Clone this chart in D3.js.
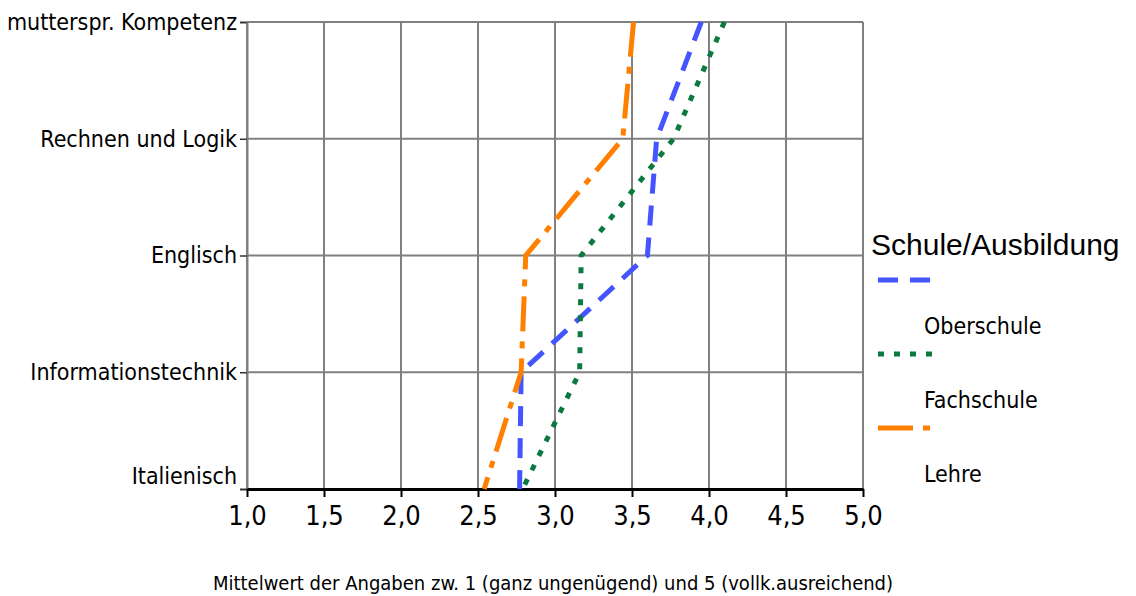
<!DOCTYPE html>
<html>
<head>
<meta charset="utf-8">
<script src="https://cdn.jsdelivr.net/npm/d3@7"></script>
<style>
  body { margin: 0; background: #fff; }
  svg { display: block; }
  .narrow { font-family: "Liberation Sans Narrow", "DejaVu Sans Condensed", "Roboto Condensed", sans-serif; font-stretch: condensed; }
</style>
</head>
<body>
<svg id="chart" width="1136" height="596"></svg>
<script>
// Skill areas (top to bottom) and mean ratings per school type
const categories = ["mutterspr. Kompetenz", "Rechnen und Logik", "Englisch", "Informationstechnik", "Italienisch"];
const oberschule = [3.95, 3.66, 3.60, 2.78, 2.77];
const fachschule = [4.10, 3.77, 3.17, 3.16, 2.79];
const lehre      = [3.51, 3.44, 2.81, 2.78, 2.54];
const xTicks = [1.0, 1.5, 2.0, 2.5, 3.0, 3.5, 4.0, 4.5, 5.0];
const seriesNames = ["Oberschule", "Fachschule", "Lehre"];
const legendTitle = "Schule/Ausbildung";
const xTitle = "Mittelwert der Angaben zw. 1 (ganz ungenügend) und 5 (vollk.ausreichend)";

const series = [
  { name: seriesNames[0], values: oberschule, color: "#4455ff", dash: "20,12" },
  { name: seriesNames[1], values: fachschule, color: "#0a7a40", dash: "6,10" },
  { name: seriesNames[2], values: lehre,      color: "#ff8000", dash: "35,10,7,10" }
];

const svg = d3.select("#chart");
const x = d3.scaleLinear().domain([1, 5]).range([247, 863]);
const y = d3.scalePoint().domain(categories).range([22, 489]);

const fmt = v => d3.format(".1f")(v).replace(".", ",");

// Grid
const grid = svg.append("g").attr("stroke", "#808080").attr("stroke-width", 2);
grid.selectAll("line.v").data(xTicks).join("line")
  .attr("x1", d => x(d)).attr("x2", d => x(d))
  .attr("y1", y(categories[0])).attr("y2", y(categories[categories.length - 1]));
grid.selectAll("line.h").data(categories).join("line")
  .attr("x1", x(1)).attr("x2", x(5))
  .attr("y1", d => y(d)).attr("y2", d => y(d));

// Y axis
const yAxis = svg.append("g")
  .attr("transform", `translate(${x(1)},0)`)
  .call(d3.axisLeft(y).tickSize(7).tickPadding(3));
yAxis.select(".domain").attr("stroke", "#808080").attr("stroke-width", 2);
yAxis.selectAll(".tick line").attr("stroke", "#333").attr("stroke-width", 1.5);
yAxis.selectAll(".tick text")
  .attr("class", "narrow")
  .attr("font-size", 23)
  .attr("fill", "#000")
  .attr("dy", d => d === categories[categories.length - 1] ? "-0.22em" : "0.32em");

// X axis
const xAxis = svg.append("g")
  .attr("transform", `translate(0,${y(categories[categories.length - 1])})`)
  .call(d3.axisBottom(x).tickValues(xTicks).tickFormat(fmt).tickSize(8).tickSizeOuter(0).tickPadding(9));
xAxis.select(".domain").attr("stroke", "#000").attr("stroke-width", 3);
xAxis.selectAll(".tick line").attr("stroke", "#000").attr("stroke-width", 2);
xAxis.selectAll(".tick text")
  .attr("class", "narrow")
  .attr("font-size", 27)
  .attr("fill", "#000");

// Series lines
const line = d3.line()
  .x(d => x(d.v))
  .y(d => y(d.c));

svg.append("g").selectAll("path.series").data(series).join("path")
  .attr("fill", "none")
  .attr("stroke", d => d.color)
  .attr("stroke-width", 5)
  .attr("stroke-dasharray", d => d.dash)
  .attr("d", d => line(categories.map((c, i) => ({ c, v: d.values[i] }))));

// X title
svg.append("text")
  .attr("class", "narrow")
  .attr("x", 553).attr("y", 590)
  .attr("text-anchor", "middle")
  .attr("font-size", 20)
  .text(xTitle);

// Legend
const legend = svg.append("g");
legend.append("text")
  .attr("x", 871).attr("y", 255)
  .attr("font-family", "Liberation Sans, Arial, sans-serif")
  .attr("font-size", 30)
  .text(legendTitle);
const items = legend.selectAll("g.item").data(series).join("g")
  .attr("transform", (d, i) => `translate(0,${280 + i * 74})`);
items.append("line")
  .attr("x1", 878).attr("x2", 932)
  .attr("stroke", d => d.color)
  .attr("stroke-width", 5)
  .attr("stroke-dasharray", d => d.dash);
items.append("text")
  .attr("class", "narrow")
  .attr("x", 924).attr("y", 54)
  .attr("font-size", 23)
  .text(d => d.name);
</script>
</body>
</html>
